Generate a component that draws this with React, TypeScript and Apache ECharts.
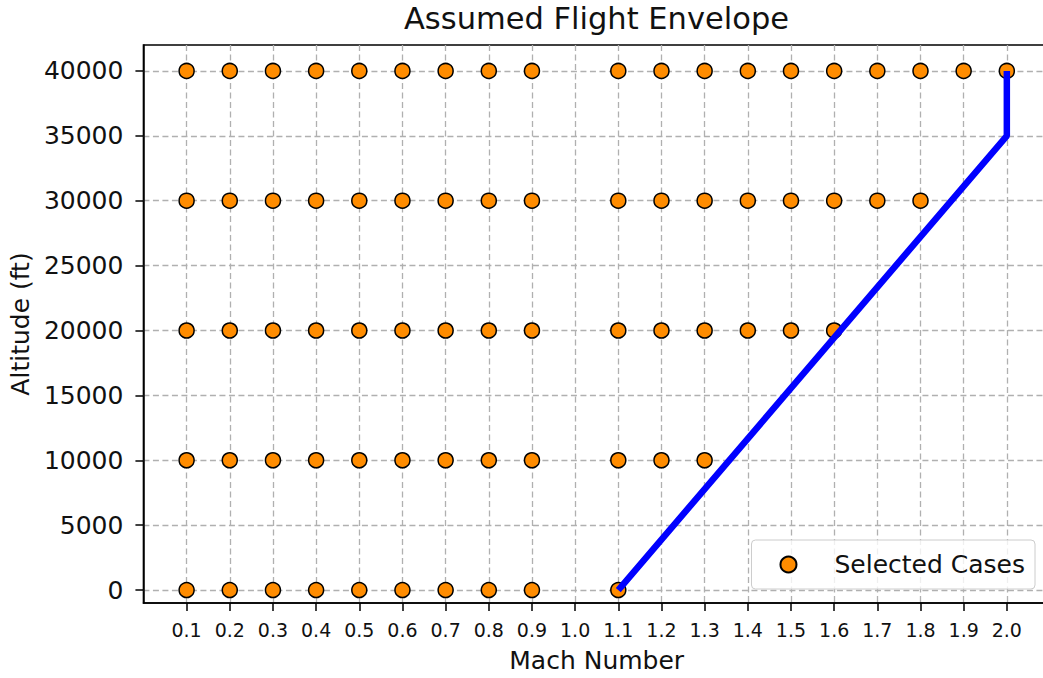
import React, { useEffect, useRef } from "react";
import * as echarts from "echarts";

// Mach numbers tested at each altitude (ft)
const altitudes = [0, 10000, 20000, 30000, 40000];
const machAt0 = [0.1, 0.2, 0.3, 0.4, 0.5, 0.6, 0.7, 0.8, 0.9, 1.1];
const machAt10000 = [0.1, 0.2, 0.3, 0.4, 0.5, 0.6, 0.7, 0.8, 0.9, 1.1, 1.2, 1.3];
const machAt20000 = [0.1, 0.2, 0.3, 0.4, 0.5, 0.6, 0.7, 0.8, 0.9, 1.1, 1.2, 1.3, 1.4, 1.5, 1.6];
const machAt30000 = [0.1, 0.2, 0.3, 0.4, 0.5, 0.6, 0.7, 0.8, 0.9, 1.1, 1.2, 1.3, 1.4, 1.5, 1.6, 1.7, 1.8];
const machAt40000 = [0.1, 0.2, 0.3, 0.4, 0.5, 0.6, 0.7, 0.8, 0.9, 1.1, 1.2, 1.3, 1.4, 1.5, 1.6, 1.7, 1.8, 1.9, 2.0];
const machRows = [machAt0, machAt10000, machAt20000, machAt30000, machAt40000];

// Envelope boundary (Mach, altitude)
const envelopeMach = [1.1, 2.0, 2.0];
const envelopeAlt = [0, 35000, 40000];

// Tick labels
const machTicks = [0.1, 0.2, 0.3, 0.4, 0.5, 0.6, 0.7, 0.8, 0.9, 1.0, 1.1, 1.2, 1.3, 1.4, 1.5, 1.6, 1.7, 1.8, 1.9, 2.0];
const altTicks = [0, 5000, 10000, 15000, 20000, 25000, 30000, 35000, 40000];

const FONT = "DejaVu Sans";
const TEXT = "#111111";

export default function App() {
  const ref = useRef<HTMLDivElement>(null);

  useEffect(() => {
    if (!ref.current) return;
    const chart = echarts.init(ref.current, undefined, { renderer: "svg" });

    const cases: number[][] = [];
    machRows.forEach((row, i) => {
      row.forEach((m) => cases.push([m, altitudes[i]]));
    });
    const envelope = envelopeMach.map((m, i) => [m, envelopeAlt[i]]);

    const gridLine = { show: true, lineStyle: { color: "#b0b0b0", width: 1.3, type: [6, 3.5] as any } };

    chart.setOption({
      animation: false,
      backgroundColor: "#ffffff",
      title: {
        text: "Assumed Flight Envelope",
        left: 404,
        top: 3,
        padding: 0,
        textStyle: { fontFamily: FONT, fontSize: 30.5, fontWeight: "normal", color: TEXT },
      },
      grid: {
        left: 143,
        right: 2,
        top: 45,
        bottom: 75,
        show: true,
        borderColor: "#000000",
        borderWidth: 1.5,
        backgroundColor: "transparent",
      },
      xAxis: {
        type: "value",
        min: 0,
        max: 2.1,
        name: "Mach Number",
        nameLocation: "middle",
        nameGap: 45,
        nameTextStyle: { fontFamily: FONT, fontSize: 25, color: TEXT },
        axisLine: { show: true, onZero: false, lineStyle: { color: "#000000", width: 1.5 } },
        axisTick: { show: true, length: 8, customValues: machTicks, lineStyle: { color: "#000000", width: 1.5 } },
        axisLabel: {
          customValues: machTicks,
          formatter: (v: number) => v.toFixed(1),
          fontFamily: FONT,
          fontSize: 19,
          color: TEXT,
          margin: 17,
        },
        splitLine: gridLine,
      },
      yAxis: {
        type: "value",
        min: -1000,
        max: 42000,
        name: "Altitude (ft)",
        nameLocation: "middle",
        nameGap: 106,
        nameTextStyle: { fontFamily: FONT, fontSize: 25, color: TEXT },
        axisLine: { show: true, onZero: false, lineStyle: { color: "#000000", width: 1.5 } },
        axisTick: { show: true, length: 8, customValues: altTicks, lineStyle: { color: "#000000", width: 1.5 } },
        axisLabel: {
          customValues: altTicks,
          formatter: (v: number) => String(v),
          fontFamily: FONT,
          fontSize: 25,
          color: TEXT,
          margin: 20,
        },
        splitLine: gridLine,
      },
      legend: {
        data: ["Selected Cases"],
        right: 17,
        bottom: 89,
        icon: "circle",
        itemWidth: 16,
        itemHeight: 16,
        padding: [12, 10, 12, 28],
        backgroundColor: "rgba(255,255,255,0.8)",
        borderColor: "#cccccc",
        borderWidth: 1,
        borderRadius: 4,
        formatter: "{a|Selected Cases}",
        textStyle: {
          fontFamily: FONT,
          fontSize: 25,
          color: TEXT,
          rich: { a: { fontFamily: FONT, fontSize: 25, color: TEXT, padding: [0, 0, 0, 33] } },
        },
      },
      series: [
        {
          name: "Selected Cases",
          type: "scatter",
          data: cases,
          symbol: "circle",
          symbolSize: 15,
          itemStyle: { color: "#ff8c00", borderColor: "#000000", borderWidth: 1.5, opacity: 1 },
          z: 2,
        },
        {
          name: "Envelope",
          type: "line",
          data: envelope,
          symbol: "none",
          lineStyle: { color: "#0000ff", width: 6.5 },
          z: 3,
        },
      ],
    });

    return () => chart.dispose();
  }, []);

  return (
    <div style={{ position: "fixed", left: 0, top: 0, width: 1043, height: 678, overflow: "hidden", background: "#fff" }}>
      <div ref={ref} style={{ width: 1052, height: 678 }} />
    </div>
  );
}
